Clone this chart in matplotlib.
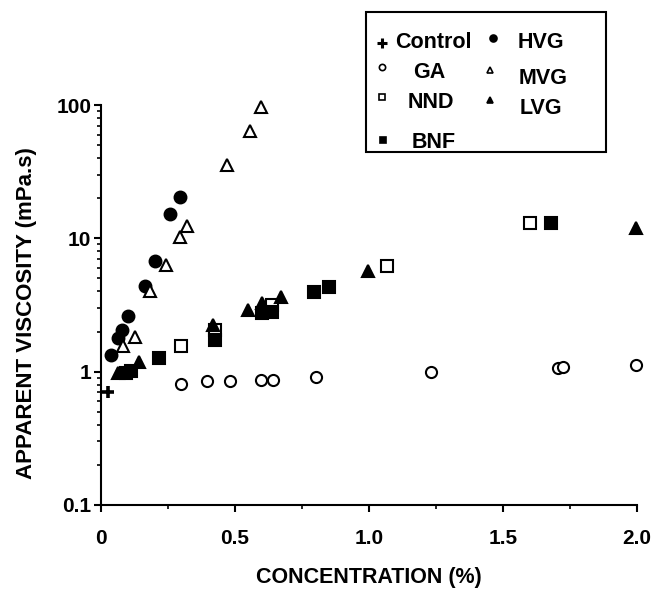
import matplotlib
matplotlib.use("Agg")
import matplotlib.pyplot as plt
from matplotlib.ticker import FixedLocator, LogLocator, NullFormatter
from matplotlib.lines import Line2D

plt.rcParams['font.family'] = ['Liberation Sans', 'DejaVu Sans']
plt.rcParams['font.weight'] = 'bold'

# ---- data ----
control_x = [0.027]
control_y = [0.70]

hvg_x = [0.038, 0.064, 0.079, 0.099, 0.163, 0.201, 0.258, 0.295]
hvg_y = [1.33, 1.79, 2.07, 2.63, 4.42, 6.8, 15.1, 20.4]

ga_x = [0.299, 0.397, 0.481, 0.597, 0.641, 0.801, 1.231, 1.706, 1.725, 1.996]
ga_y = [0.81, 0.85, 0.85, 0.86, 0.86, 0.91, 0.99, 1.06, 1.08, 1.13]

mvg_x = [0.083, 0.128, 0.183, 0.244, 0.293, 0.321, 0.469, 0.556, 0.596]
mvg_y = [1.57, 1.82, 4.0, 6.27, 10.2, 12.4, 35.3, 64.3, 96.8]

nnd_x = [0.299, 0.426, 0.638, 1.068, 1.599]
nnd_y = [1.55, 2.04, 3.15, 6.17, 13.0]

lvg_x = [0.064, 0.142, 0.419, 0.549, 0.599, 0.673, 0.996, 1.996]
lvg_y = [0.97, 1.19, 2.25, 2.92, 3.27, 3.60, 5.65, 11.97]

bnf_x = [0.095, 0.112, 0.215, 0.425, 0.601, 0.638, 0.796, 0.851, 1.679]
bnf_y = [0.98, 1.02, 1.27, 1.74, 2.76, 2.80, 3.94, 4.32, 13.0]

x_ticks = [0, 0.5, 1.0, 1.5, 2.0]
x_ticklabels = ["0", "0.5", "1.0", "1.5", "2.0"]
y_ticks = [0.1, 1, 10, 100]
y_ticklabels = ["0.1", "1", "10", "100"]

W, H = 653, 591
fig = plt.figure(figsize=(W / 100, H / 100), dpi=100)
ax = fig.add_axes([101 / W, 1 - 505 / H, (637 - 101) / W, 400 / H])

ms = 8
mew = 1.5
common = dict(linestyle='none', clip_on=False, zorder=3)
ax.plot(control_x, control_y, marker='+', color='black', ms=9, mew=2.6, **common)
ax.plot(ga_x, ga_y, marker='o', mfc='white', mec='black', ms=ms, mew=mew, **common)
ax.plot(nnd_x, nnd_y, marker='s', mfc='white', mec='black', ms=ms, mew=mew, **common)
ax.plot(bnf_x, bnf_y, marker='s', mfc='black', mec='black', ms=ms, mew=mew, **common)
ax.plot(hvg_x, hvg_y, marker='o', mfc='black', mec='black', ms=ms + 0.5, mew=mew, **common)
ax.plot(mvg_x, mvg_y, marker='^', mfc='white', mec='black', ms=ms, mew=mew, **common)
ax.plot(lvg_x, lvg_y, marker='^', mfc='black', mec='black', ms=ms, mew=mew, **common)

ax.set_yscale('log')
ax.set_xlim(0, 2.0)
ax.set_ylim(0.1, 100)

ax.xaxis.set_major_locator(FixedLocator(x_ticks))
ax.set_xticklabels(x_ticklabels)
ax.xaxis.set_minor_locator(FixedLocator([0.25, 0.75, 1.25, 1.75]))
ax.yaxis.set_major_locator(FixedLocator(y_ticks))
ax.set_yticklabels(y_ticklabels)
ax.yaxis.set_minor_locator(LogLocator(base=10, subs=range(2, 10)))
ax.yaxis.set_minor_formatter(NullFormatter())

for s in ['top', 'right']:
    ax.spines[s].set_visible(False)
for s in ['left', 'bottom']:
    ax.spines[s].set_linewidth(1.5)

ax.tick_params(axis='both', which='major', direction='out', length=5, width=1.5,
               labelsize=15)
ax.tick_params(axis='both', which='minor', direction='out', length=3, width=1.2)
ax.tick_params(axis='x', which='major', pad=12)
ax.tick_params(axis='y', which='major', pad=2)

ax.set_xlabel("CONCENTRATION (%)", fontsize=15.5, fontweight='bold')
ax.set_ylabel("APPARENT VISCOSITY (mPa.s)", fontsize=16, fontweight='bold')
ax.xaxis.set_label_coords(0.5, (505 - 578) / 400)
ax.xaxis.label.set_va('center')
ax.yaxis.set_label_coords((27 - 101) / 536, 0.48)
ax.yaxis.label.set_va('center')

# ---- legend (manual layout, figure pixel coordinates) ----
def fx(px):
    return px / W

def fy(py):
    return 1 - py / H

box = plt.Rectangle((fx(366), fy(152)), (606 - 366) / W, (152 - 12) / H,
                    transform=fig.transFigure, fill=False, lw=1.5, ec='black')
fig.add_artist(box)

leg_items = [
    ('+', 'black', 'black', 382, 43, "Control", 395, 43, 'left', 2.2, 7),
    ('o', 'black', 'black', 493, 38, "HVG", 541, 43, 'center', 1.2, 5),
    ('o', 'white', 'black', 382, 67, "GA", 429, 72, 'center', 1.2, 4.5),
    ('^', 'white', 'black', 490, 70, "MVG", 543, 78, 'center', 1.2, 4.5),
    ('s', 'white', 'black', 382, 97, "NND", 431, 103, 'center', 1.2, 4.5),
    ('^', 'black', 'black', 490, 100, "LVG", 541, 108, 'center', 1.2, 5),
    ('s', 'black', 'black', 383, 140, "BNF", 434, 143, 'center', 1.2, 5),
]
for mk, fc, ec, mx, my, label, tx, ty, ha, lw, msz in leg_items:
    fig.add_artist(Line2D([fx(mx)], [fy(my)], transform=fig.transFigure,
                          marker=mk, mfc=fc, mec=ec, ms=msz, mew=lw,
                          linestyle='none'))
    fig.text(fx(tx), fy(ty), label, fontsize=15.5, fontweight='bold',
             ha=ha, va='center')

fig.savefig("out.png", dpi=100)
